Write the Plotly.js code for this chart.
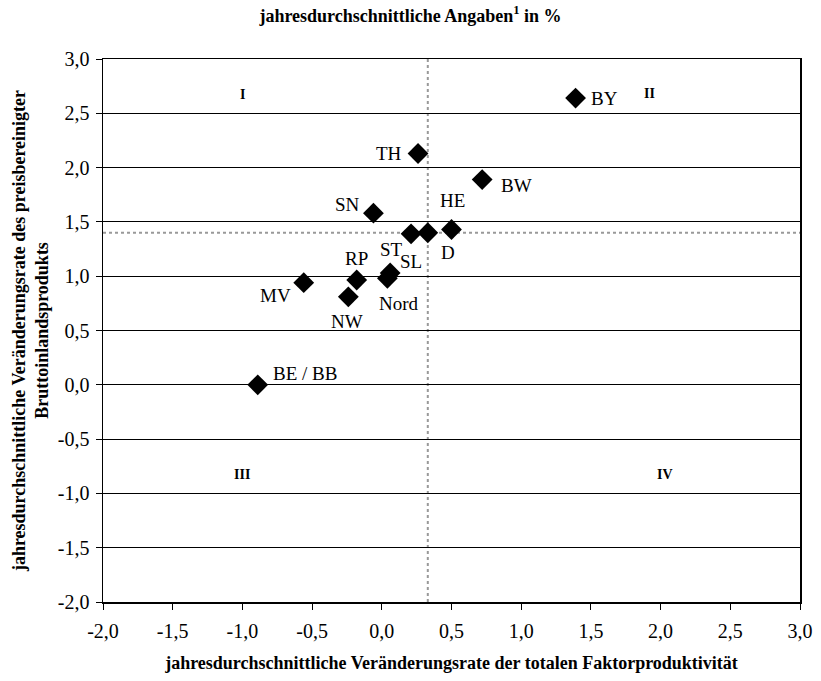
<!DOCTYPE html>
<html><head><meta charset="utf-8">
<script src="https://cdn.plot.ly/plotly-3.0.1.min.js"></script>
<style>body{margin:0;background:#fff}#c{width:821px;height:681px}</style>
</head><body><div id="c"></div>
<script>
const regions = ["BY","TH","BW","SN","HE","ST","D","SL","Nord","RP","MV","NW","BE / BB"];
const tfp     = [1.39, 0.26, 0.72, -0.06, 0.50, 0.21, 0.33, 0.06, 0.04, -0.18, -0.56, -0.24, -0.89];
const gdp     = [2.64, 2.13, 1.89, 1.58, 1.43, 1.39, 1.40, 1.03, 0.98, 0.965, 0.94, 0.81, 0.00];
const refRegion = "D";
const quadrants = ["I","II","III","IV"];
const quadX = [-1.0, 1.92, -1.0, 2.03];
const quadY = [2.67, 2.68, -0.83, -0.83];
const tickVals = [-2,-1.5,-1,-0.5,0,0.5,1,1.5,2,2.5,3];
const tickText = ["-2,0","-1,5","-1,0","-0,5","0,0","0,5","1,0","1,5","2,0","2,5","3,0"];

// label offsets in px (style only)
const labelShift = {
  "BY":[29,0],"TH":[-29,0],"BW":[34,-6],"SN":[-26,9],"HE":[1,29],"ST":[-20,-16],
  "D":[20,-20],"SL":[21,11],"Nord":[12,-25],"RP":[0,22],"MV":[-28,-13],"NW":[-1,-25],"BE / BB":[47,11]
};

const serif = "Liberation Serif, Times New Roman, serif";
const refIdx = regions.indexOf(refRegion);

const trace = {
  x: tfp, y: gdp, type: "scatter", mode: "markers",
  marker: {symbol: "diamond", size: 16, color: "#000"},
  hoverinfo: "skip"
};

const annotations = regions.map((r,i)=>({
  x: tfp[i], y: gdp[i], xref:"x", yref:"y", text: r, showarrow:false,
  xshift: labelShift[r][0], yshift: labelShift[r][1],
  font:{family:serif, size:19, color:"#000"}
})).concat(quadrants.map((q,i)=>({
  x: quadX[i], y: quadY[i], xref:"x", yref:"y", text:"<b>"+q+"</b>", showarrow:false,
  font:{family:serif, size:14, color:"#000"}
})));

const layout = {
  width: 821, height: 681,
  margin: {l:103, r:21, t:59, b:79},
  paper_bgcolor:"#fff", plot_bgcolor:"#fff",
  showlegend:false,
  font:{family:serif, color:"#000"},
  title:{text:"<b>jahresdurchschnittliche Angaben<sup>1</sup> in %</b>", x:0.5, xanchor:"center", y:0.977, yanchor:"middle",
    font:{family:serif, size:18, color:"#000"}},
  xaxis:{range:[-2,3], tickmode:"array", tickvals:tickVals, ticktext:tickText, showgrid:false, zeroline:false,
    showline:true, linecolor:"#000", linewidth:1.5, mirror:true, ticks:"outside", ticklen:6, tickcolor:"#000",
    ticklabelstandoff:4,
    tickfont:{family:serif, size:20, color:"#000"},
    title:{text:"<b>jahresdurchschnittliche Veränderungsrate der totalen Faktorproduktivität</b>", standoff:16,
      font:{family:serif, size:18, color:"#000"}}},
  yaxis:{range:[-2,3], tickmode:"array", tickvals:tickVals, ticktext:tickText, showgrid:true, gridcolor:"#000", gridwidth:1, zeroline:false,
    showline:true, linecolor:"#000", linewidth:1.5, mirror:true, ticks:"outside", ticklen:6, tickcolor:"#000",
    ticklabelstandoff:2,
    tickfont:{family:serif, size:20, color:"#000"},
    title:{text:"<b>jahresdurchschnittliche Veränderungsrate des preisbereinigter<br>Bruttoinlandsprodukts</b>", standoff:4,
      font:{family:serif, size:18, color:"#000"}}},
  shapes:[
    {type:"line", xref:"x", yref:"paper", x0:tfp[refIdx], x1:tfp[refIdx], y0:0, y1:1, line:{color:"#999", width:2, dash:"dot"}, layer:"below"},
    {type:"line", xref:"paper", yref:"y", x0:0, x1:1, y0:gdp[refIdx], y1:gdp[refIdx], line:{color:"#999", width:2, dash:"dot"}, layer:"below"}
  ],
  annotations: annotations
};

Plotly.newPlot("c", [trace], layout, {displayModeBar:false, staticPlot:true});
</script></body></html>
